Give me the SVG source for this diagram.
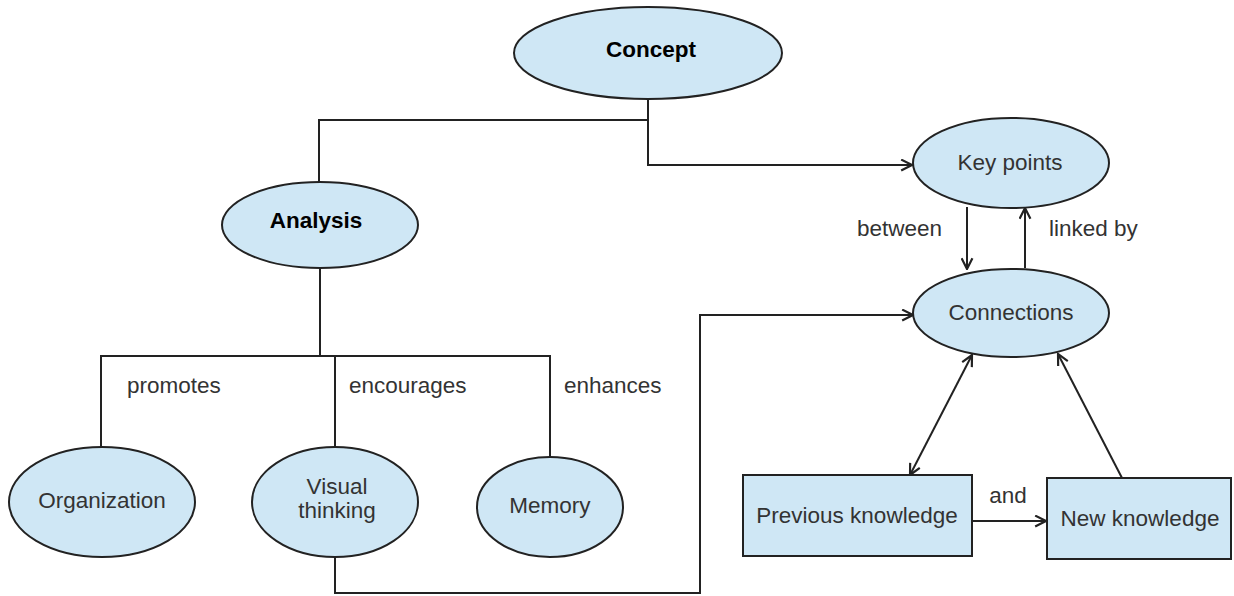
<svg xmlns="http://www.w3.org/2000/svg" width="1234" height="596" viewBox="0 0 1234 596">
  <defs>
    <marker id="arrow" viewBox="0 0 12 12" refX="11" refY="6" markerWidth="13" markerHeight="13" markerUnits="userSpaceOnUse" orient="auto-start-reverse">
      <path d="M1,1 L11,6 L1,11" fill="none" stroke="#222" stroke-width="2"/>
    </marker>
  </defs>
  <style>
    .node { fill: #cfe7f5; stroke: #222; stroke-width: 2; }
    .edge { fill: none; stroke: #222; stroke-width: 2; }
    .t { font-family: "Liberation Sans", Arial, sans-serif; font-size: 22.5px; fill: #333; text-anchor: middle; }
    .b { font-family: "Liberation Sans", Arial, sans-serif; font-size: 22.5px; font-weight: bold; fill: #000; text-anchor: middle; }
    .lbl { font-family: "Liberation Sans", Arial, sans-serif; font-size: 22.5px; fill: #333; }
  </style>
  <rect width="1234" height="596" fill="#fff"/>

  <g id="connectors">
    <!-- Concept to Analysis and Key points -->
    <path class="edge" d="M648,99 V120 H319 V182"/>
    <path class="edge" d="M648,120 V165 H912" marker-end="url(#arrow)"/>
    <!-- Analysis tree -->
    <path class="edge" d="M320,268 V356"/>
    <path class="edge" d="M101,447 V356 H550 V458"/>
    <path class="edge" d="M335,356 V447"/>
    <!-- Visual thinking to Connections -->
    <path class="edge" d="M335,558 V593 H700 V315 H913" marker-end="url(#arrow)"/>
    <!-- Key points / Connections -->
    <path class="edge" d="M967,207 V269" marker-end="url(#arrow)"/>
    <path class="edge" d="M1025,268 V208" marker-end="url(#arrow)"/>
    <!-- knowledge links -->
    <path class="edge" d="M910,475 L972,355" marker-start="url(#arrow)" marker-end="url(#arrow)"/>
    <path class="edge" d="M1122,478 L1058,354" marker-end="url(#arrow)"/>
    <path class="edge" d="M972,521 H1046" marker-end="url(#arrow)"/>
  </g>

  <g id="labels">
    <text class="lbl" x="127" y="393">promotes</text>
    <text class="lbl" x="349" y="393">encourages</text>
    <text class="lbl" x="564" y="393">enhances</text>
    <text class="lbl" x="857" y="236">between</text>
    <text class="lbl" x="1049" y="236">linked by</text>
    <text class="t" x="1008" y="503">and</text>
  </g>

  <g id="concept">
    <ellipse class="node" cx="648" cy="53" rx="134" ry="46"/>
    <text class="b" x="651" y="57">Concept</text>
  </g>
  <g id="analysis">
    <ellipse class="node" cx="320" cy="225" rx="98" ry="43"/>
    <text class="b" x="316" y="228">Analysis</text>
  </g>
  <g id="organization">
    <ellipse class="node" cx="102" cy="502" rx="93" ry="55"/>
    <text class="t" x="102" y="508">Organization</text>
  </g>
  <g id="visual-thinking">
    <ellipse class="node" cx="335" cy="502" rx="83" ry="55"/>
    <text class="t" x="337" y="494">Visual</text>
    <text class="t" x="337" y="518">thinking</text>
  </g>
  <g id="memory">
    <ellipse class="node" cx="550" cy="507" rx="73" ry="50"/>
    <text class="t" x="550" y="513">Memory</text>
  </g>
  <g id="key-points">
    <ellipse class="node" cx="1011" cy="163" rx="98" ry="45"/>
    <text class="t" x="1010" y="170">Key points</text>
  </g>
  <g id="connections">
    <ellipse class="node" cx="1011" cy="313" rx="98" ry="44"/>
    <text class="t" x="1011" y="320">Connections</text>
  </g>
  <g id="previous-knowledge">
    <rect class="node" x="743" y="475" width="229" height="81"/>
    <text class="t" x="857" y="523">Previous knowledge</text>
  </g>
  <g id="new-knowledge">
    <rect class="node" x="1047" y="478" width="184" height="81"/>
    <text class="t" x="1140" y="526">New knowledge</text>
  </g>
</svg>
